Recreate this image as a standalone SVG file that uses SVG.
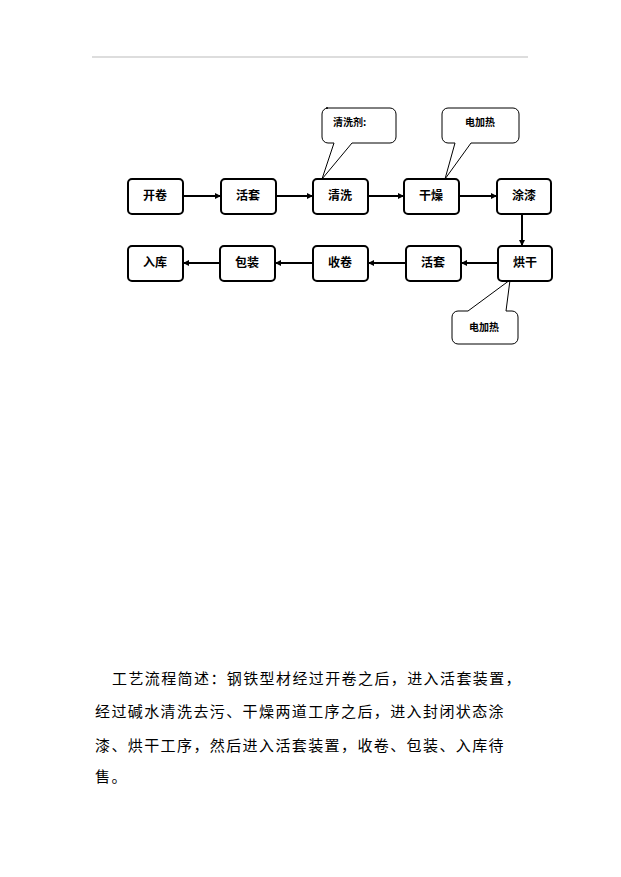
<svg xmlns="http://www.w3.org/2000/svg" width="621" height="877" viewBox="0 0 621 877">
<style>
.b{fill:#fff;stroke:#000;stroke-width:2}
.t{font-family:"Noto Sans CJK SC",sans-serif;font-size:12px;font-weight:bold;text-anchor:middle}
.c{fill:#fff;stroke:#000;stroke-width:1}
.ct{font-family:"Noto Sans CJK SC",sans-serif;font-size:10px;font-weight:bold}
.l{stroke:#000;stroke-width:2;fill:none;marker-end:url(#a)}
.p{font-family:"Noto Sans CJK SC",sans-serif;font-size:15px;letter-spacing:1.4px}
</style>
<defs><marker id="a" markerWidth="6" markerHeight="6" refX="5" refY="3" orient="auto" markerUnits="userSpaceOnUse"><path d="M0,0L6,3L0,6z"/></marker></defs>
<rect width="621" height="877" fill="#fff"/>
<line x1="92" y1="57" x2="528" y2="57" stroke="#bbb" stroke-width="1"/>
<g id="callouts">
<path class="c" d="M326,108h64a6,6 0 0 1 6,6v23a6,6 0 0 1-6,6h-38l-30,36l12,-36h-6a6,6 0 0 1-6,-6v-23a6,6 0 0 1 6,-6z"/>
<text class="ct" x="333" y="126">清洗剂:</text>
<path class="c" d="M448,108h65a6,6 0 0 1 6,6v23a6,6 0 0 1-6,6h-42l-26,36l10,-36h-7a6,6 0 0 1-6,-6v-23a6,6 0 0 1 6,-6z"/>
<text class="ct" x="465" y="126">电加热</text>
<path class="c" d="M458,311h10l42,-31l-4,31h6a6,6 0 0 1 6,6v21a6,6 0 0 1-6,6h-54a6,6 0 0 1-6,-6v-21a6,6 0 0 1 6,-6z"/>
<text class="ct" x="469" y="331">电加热</text>
</g>
<g id="connectors">
<line class="l" x1="183" y1="196" x2="220" y2="196"/>
<line class="l" x1="276" y1="196" x2="312" y2="196"/>
<line class="l" x1="368" y1="196" x2="403" y2="196"/>
<line class="l" x1="459" y1="196" x2="496" y2="196"/>
<line class="l" x1="522" y1="214" x2="522" y2="245"/>
<line class="l" x1="498" y1="263" x2="462" y2="263"/>
<line class="l" x1="406" y1="263" x2="369" y2="263"/>
<line class="l" x1="313" y1="263" x2="276" y2="263"/>
<line class="l" x1="220" y1="263" x2="184" y2="263"/>
</g>
<g id="n1"><rect class="b" x="128" y="179" width="55" height="35" rx="4"/><text class="t" x="155" y="200">开卷</text></g>
<g id="n2"><rect class="b" x="221" y="179" width="55" height="35" rx="4"/><text class="t" x="248" y="200">活套</text></g>
<g id="n3"><rect class="b" x="313" y="179" width="55" height="35" rx="4"/><text class="t" x="340" y="200">清洗</text></g>
<g id="n4"><rect class="b" x="404" y="179" width="55" height="35" rx="4"/><text class="t" x="431" y="200">干燥</text></g>
<g id="n5"><rect class="b" x="497" y="179" width="54" height="35" rx="4"/><text class="t" x="524" y="200">涂漆</text></g>
<g id="n6"><rect class="b" x="498" y="246" width="54" height="35" rx="4"/><text class="t" x="525" y="267">烘干</text></g>
<g id="n7"><rect class="b" x="406" y="246" width="55" height="35" rx="4"/><text class="t" x="433" y="267">活套</text></g>
<g id="n8"><rect class="b" x="313" y="246" width="55" height="35" rx="4"/><text class="t" x="340" y="267">收卷</text></g>
<g id="n9"><rect class="b" x="220" y="246" width="55" height="35" rx="4"/><text class="t" x="247" y="267">包装</text></g>
<g id="n10"><rect class="b" x="128" y="246" width="55" height="35" rx="4"/><text class="t" x="155" y="267">入库</text></g>
<text class="p" x="112" y="684">工艺流程简述：钢铁型材经过开卷之后，进入活套装置，</text>
<text class="p" x="95" y="717">经过碱水清洗去污、干燥两道工序之后，进入封闭状态涂</text>
<text class="p" x="95" y="751">漆、烘干工序，然后进入活套装置，收卷、包装、入库待</text>
<text class="p" x="95" y="782">售。</text>
</svg>
